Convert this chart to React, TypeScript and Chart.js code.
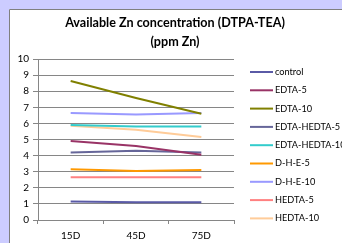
import React, { useEffect, useRef } from "react";
import { Chart, registerables } from "chart.js";

Chart.register(...registerables);

const categories = ["15D", "45D", "75D"];
const seriesNames = [
  "control",
  "EDTA-5",
  "EDTA-10",
  "EDTA-HEDTA-5",
  "EDTA-HEDTA-10",
  "D-H-E-5",
  "D-H-E-10",
  "HEDTA-5",
  "HEDTA-10",
];
const control = [1.15, 1.1, 1.1];
const edta5 = [4.9, 4.6, 4.05];
const edta10 = [8.63, 7.58, 6.6];
const edtaHedta5 = [4.2, 4.3, 4.2];
const edtaHedta10 = [5.9, 5.8, 5.8];
const dhe5 = [3.15, 3.05, 3.1];
const dhe10 = [6.65, 6.55, 6.65];
const hedta5 = [2.65, 2.65, 2.65];
const hedta10 = [5.85, 5.6, 5.15];
const seriesValues = [control, edta5, edta10, edtaHedta5, edtaHedta10, dhe5, dhe10, hedta5, hedta10];
const seriesColors = [
  "#5A5AA6",
  "#993366",
  "#808000",
  "#666699",
  "#33CCCC",
  "#FF9900",
  "#9999FF",
  "#FF8080",
  "#FFCC99",
];
const titleLines = ["Available Zn concentration (DTPA-TEA)", "(ppm Zn)"];
const yMin = 0;
const yMax = 10;

const FONT = "Lato, 'Open Sans', sans-serif";

export default function App() {
  const ref = useRef<HTMLCanvasElement | null>(null);
  useEffect(() => {
    document.body.style.margin = "0";
    const canvas = ref.current!;
    const bgPlugin = {
      id: "bg",
      beforeDraw(chart: any) {
        const ctx = chart.ctx;
        ctx.save();
        ctx.fillStyle = "#CCCCFF";
        ctx.fillRect(0, 0, chart.width, chart.height);
        ctx.fillStyle = "#FFFFFF";
        ctx.fillRect(9, 9, chart.width, chart.height);
        ctx.strokeStyle = "#7F7F7F";
        ctx.lineWidth = 1;
        ctx.beginPath();
        ctx.moveTo(9.5, chart.height);
        ctx.lineTo(9.5, 9.5);
        ctx.lineTo(chart.width, 9.5);
        ctx.stroke();
        ctx.restore();
      },
      afterDraw(chart: any) {
        const ctx = chart.ctx;
        ctx.save();
        ctx.fillStyle = "#000000";
        ctx.textAlign = "center";
        ctx.textBaseline = "middle";
        ctx.font = `bold 12.6px ${FONT}`;
        ctx.fillText(titleLines[0], 175, 23);
        ctx.fillText(titleLines[1], 175, 42);
        ctx.font = `9.2px ${FONT}`;
        ctx.textAlign = "left";
        chart.data.datasets.forEach((ds: any, i: number) => {
          const y = 72 + i * 18.3;
          ctx.strokeStyle = ds.borderColor;
          ctx.lineWidth = 2;
          ctx.beginPath();
          ctx.moveTo(250, y);
          ctx.lineTo(273, y);
          ctx.stroke();
          ctx.fillStyle = "#000000";
          ctx.fillText(ds.label, 275, y);
        });
        ctx.restore();
      },
    };
    const chart = new Chart(canvas, {
      type: "line",
      data: {
        labels: categories,
        datasets: seriesNames.map((name, i) => ({
          label: name,
          data: seriesValues[i],
          borderColor: seriesColors[i],
          backgroundColor: seriesColors[i],
          borderWidth: 2,
          pointRadius: 0,
          tension: 0,
        })),
      },
      options: {
        animation: false,
        responsive: false,
        devicePixelRatio: 1,
        layout: { padding: { top: 59, left: 0, right: 108, bottom: 0 } },
        plugins: {
          legend: { display: false },
          title: { display: false },
          tooltip: { enabled: false },
        },
        scales: {
          x: {
            offset: true,
            grid: {
              offset: true,
              drawOnChartArea: false,
              drawTicks: true,
              tickLength: 4,
              color: "#868686",
            },
            border: { color: "#868686", width: 1 },
            ticks: { color: "#000", font: { family: FONT, size: 10 }, padding: 6 },
            afterFit: (s: any) => {
              s.height = 23;
            },
          },
          y: {
            min: yMin,
            max: yMax,
            ticks: { stepSize: 1, color: "#000", font: { family: FONT, size: 10 }, padding: 4 },
            grid: { color: "#868686", tickLength: 5 },
            border: { color: "#868686", width: 1 },
            afterFit: (s: any) => {
              s.width = 38;
            },
          },
        },
      },
      plugins: [bgPlugin],
    });
    return () => chart.destroy();
  }, []);
  return (
    <div style={{ width: 342, height: 243 }}>
      <canvas ref={ref} width={342} height={243} style={{ display: "block" }} />
    </div>
  );
}
